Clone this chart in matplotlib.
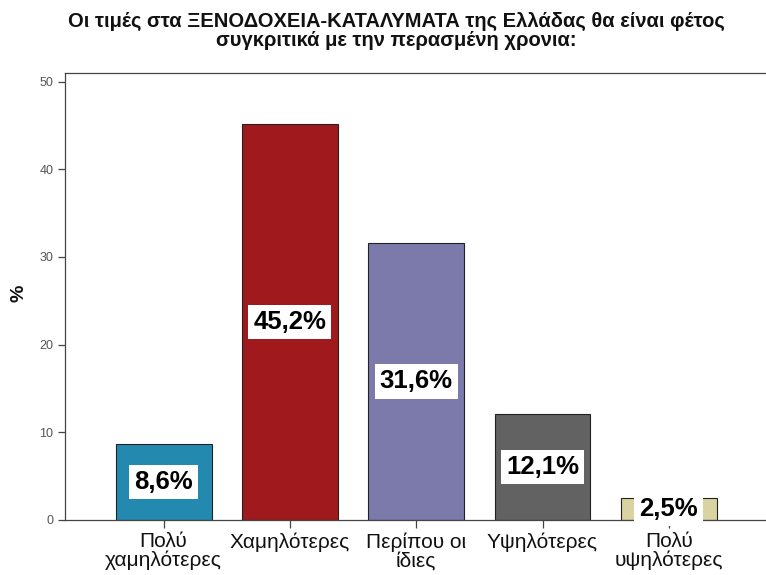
import matplotlib
matplotlib.use('Agg')
import matplotlib.pyplot as plt

# data
categories = ['Πολύ\nχαμηλότερες', 'Χαμηλότερες', 'Περίπου οι\nίδιες',
              'Υψηλότερες', 'Πολύ\nυψηλότερες']
values = [8.6, 45.2, 31.6, 12.1, 2.5]
labels = ['8,6%', '45,2%', '31,6%', '12,1%', '2,5%']
colors = ['#2389ae', '#a0191d', '#7b7aab', '#626262', '#d8d3a0']
yticks = [0, 10, 20, 30, 40, 50]

plt.rcParams['font.family'] = ['Liberation Sans', 'DejaVu Sans']

fig = plt.figure(figsize=(7.66, 5.75), dpi=100)
ax = fig.add_axes([0.085, 0.096, 0.92, 0.777])

x = list(range(len(values)))
ax.bar(x, values, width=0.76, color=colors, edgecolor='#222222', linewidth=0.8, zorder=2)

for xi, v, lab in zip(x, values, labels):
    ax.text(xi, v / 2, lab, ha='center', va='center', fontsize=18.5,
            fontweight='bold', color='black', zorder=3,
            bbox=dict(boxstyle='square,pad=0.2', facecolor='white', edgecolor='none'))

ax.set_xlim(-0.78, 4.80)
ax.set_ylim(0, 51)
ax.set_yticks(yticks)
ax.set_xticks(x)
ax.set_xticklabels(categories, fontsize=15, color='#111111', linespacing=0.95)
ax.tick_params(axis='y', labelsize=9, labelcolor='#555555', length=5,
               width=0.9, color='#444444')
ax.tick_params(axis='x', length=6, width=0.9, color='#444444', pad=3)

for side in ['left', 'top', 'bottom', 'right']:
    ax.spines[side].set_color('#444444')
    ax.spines[side].set_linewidth(0.9)

# y-axis title placed in figure pixels so it is not clipped
fig.text(19 / 766, 1 - 293 / 575, '%', rotation=90, ha='center', va='center',
         fontsize=14, fontweight='bold', color='#111111')

fig.text(0.518, 0.946, 'Οι τιμές στα ΞΕΝΟΔΟΧΕΙΑ-ΚΑΤΑΛΥΜΑΤΑ της Ελλάδας θα είναι φέτος\n'
         'συγκριτικά με την περασμένη χρονια:',
         ha='center', va='center', fontsize=14.5, fontweight='bold',
         linespacing=1.0, color='#111111')

fig.savefig('out.png', dpi=100)
